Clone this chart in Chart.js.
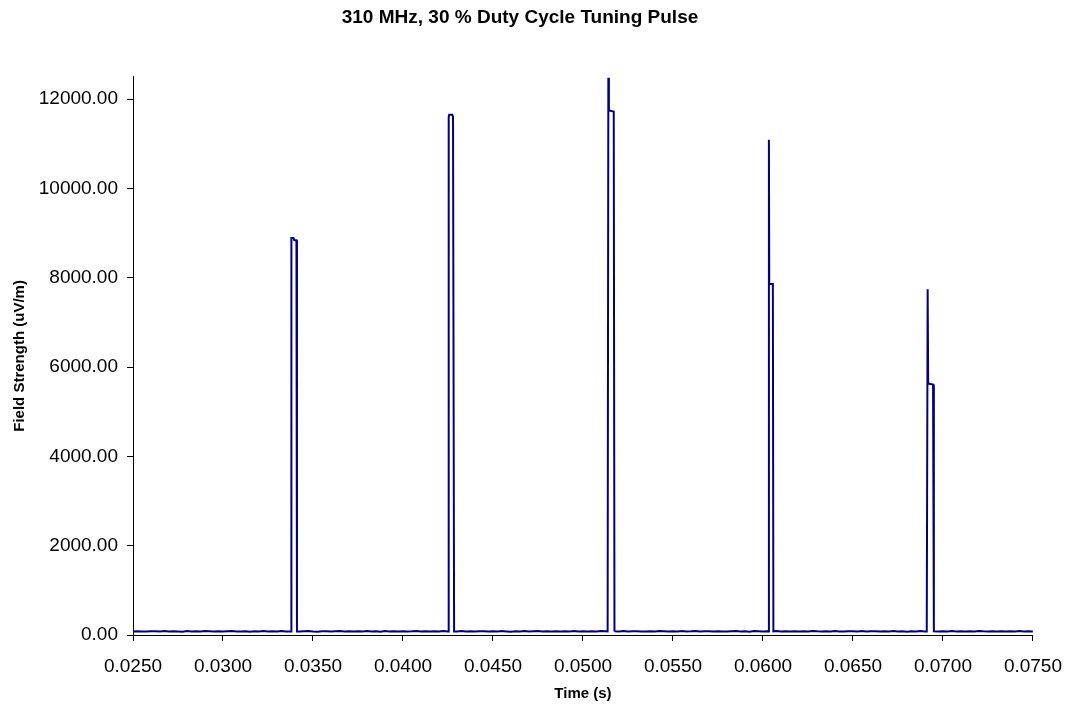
<!DOCTYPE html>
<html>
<head>
<meta charset="utf-8">
<title>310 MHz, 30 % Duty Cycle Tuning Pulse</title>
<script src="https://cdn.jsdelivr.net/npm/chart.js@4.4.1/dist/chart.umd.min.js"></script>
<style>
    html, body { margin: 0; padding: 0; background: #fff; }
    #wrap { width: 1076px; height: 709px; position: relative; }
</style>
</head>
<body>
<div id="wrap"><canvas id="myChart"></canvas></div>
<script>
// noise floor samples, one every 0.25 ms starting at 25 ms
var baselineStart = 0.025;
var baselineStep = 0.00025;
var baselineValues = [
    78, 84, 80, 76, 86, 82, 79, 88, 77, 83,
    81, 75, 87, 80, 84, 78, 90, 82, 76, 85,
    79, 83, 88, 77, 81, 86, 74, 82, 80, 87,
    78, 84, 76, 89, 81, 79, 85, 77, 83, 88,
    80, 75, 86, 82, 78, 84, 91, 79, 83, 76,
    85, 80, 87, 78, 82, 75, 88, 81, 84, 77,
    86, 79, 83, 90, 76, 82, 80, 85, 78, 87,
    81, 84, 77, 89, 80, 83, 76, 86, 82, 79,
    85, 78, 88, 81, 75, 84, 80, 87, 77, 83,
    90, 79, 82, 76, 86, 81, 84, 78, 88, 80,
    83, 77, 85, 79, 87, 82, 75, 84, 80, 89,
    78, 83, 86, 76, 81, 85, 79, 88, 82, 77,
    84, 80, 87, 78, 83, 91, 76, 82, 85, 79,
    86, 81, 77, 84, 88, 80, 83, 75, 87, 82,
    78, 85, 80, 89, 76, 83, 81, 86, 79, 84,
    77, 88, 82, 80, 85, 78, 90, 81, 76, 84,
    83, 79, 87, 80, 82, 86, 77, 84, 81, 88,
    78, 83, 75, 85, 80, 87, 79, 82, 84, 76,
    86, 81, 89, 78, 83, 80, 85, 77, 88, 82,
    79, 84, 80, 86, 76, 83, 81, 87, 78, 85,
    80
];

// the five pulses: edge / peak / shoulder times (s) and levels (uV/m)
var pulseTimes = [
    [0.03378, 0.03380, 0.03392, 0.03396, 0.03408, 0.03411],
    [0.04251, 0.04254, 0.04257, 0.04274, 0.04278, 0.04284],
    [0.05137, 0.05141, 0.05144, 0.05149, 0.05171, 0.05175],
    [0.06029, 0.06033, 0.06035, 0.06055, 0.06058],
    [0.06910, 0.06915, 0.06918, 0.06945, 0.06949]
];
var pulseValues = [
    [80, 8890, 8890, 8840, 8840, 80],
    [80, 11600, 11650, 11650, 11600, 80],
    [80, 12480, 11780, 11740, 11720, 80],
    [80, 11090, 7860, 7860, 80],
    [80, 7740, 5630, 5610, 80]
];

var xTicks = [0.025, 0.030, 0.035, 0.040, 0.045, 0.050, 0.055, 0.060, 0.065, 0.070, 0.075];
var yTicks = [0, 2000, 4000, 6000, 8000, 10000, 12000];

var fontName = "'Liberation Sans', Arial, sans-serif";

start();

function start() {
    setupChart(buildPoints());
}

function buildPoints() {
    var pts = [];
    var i, j;
    for (i = 0; i < baselineValues.length; i++) {
        var t = baselineStart + i * baselineStep;
        var inside = false;
        for (j = 0; j < pulseTimes.length; j++) {
            var p = pulseTimes[j];
            if (t >= p[0] && t <= p[p.length - 1]) inside = true;
        }
        if (!inside) pts.push({x: t, y: baselineValues[i]});
    }
    for (j = 0; j < pulseTimes.length; j++) {
        for (i = 0; i < pulseTimes[j].length; i++) {
            pts.push({x: pulseTimes[j][i], y: pulseValues[j][i]});
        }
    }
    pts.sort(function (a, b) { return a.x - b.x; });
    return pts;
}

function setupChart(points) {
    var ctx = document.getElementById("myChart").getContext('2d');
    var myChart = new Chart(ctx, {
        type: 'line',
        data: {
            datasets: [{
                label: 'Field Strength',
                data: points,
                borderColor: '#000080',
                borderWidth: 2,
                pointRadius: 0,
                tension: 0,
                fill: false
            }]
        },
        options: {
            responsive: true,
            maintainAspectRatio: false,
            animation: false,
            devicePixelRatio: 1,
            layout: { padding: { left: 0, right: 36, top: 0, bottom: 0 } },
            plugins: {
                legend: { display: false },
                tooltip: { enabled: false },
                title: {
                    display: true,
                    text: '310 MHz, 30 % Duty Cycle Tuning Pulse',
                    color: '#000',
                    font: { family: fontName, size: 19, weight: 'bold' },
                    padding: { top: 6, bottom: 48 }
                }
            },
            scales: {
                x: {
                    type: 'linear',
                    min: 0.025,
                    max: 0.075,
                    afterBuildTicks: function (axis) {
                        axis.ticks = xTicks.map(function (v) { return {value: v}; });
                    },
                    afterFit: function (axis) { axis.height = 74; },
                    ticks: {
                        color: '#000',
                        padding: 14,
                        maxRotation: 0,
                        autoSkip: false,
                        font: { family: fontName, size: 19 },
                        callback: function (v) { return Number(v).toFixed(4); }
                    },
                    grid: { drawOnChartArea: false, drawTicks: true, tickLength: 6, color: '#000' },
                    border: { color: '#000', width: 1 },
                    title: {
                        display: true,
                        text: 'Time (s)',
                        color: '#000',
                        font: { family: fontName, size: 15, weight: 'bold' },
                        padding: { top: 4, bottom: 6 }
                    }
                },
                y: {
                    min: 0,
                    max: 12500,
                    afterBuildTicks: function (axis) {
                        axis.ticks = yTicks.map(function (v) { return {value: v}; });
                    },
                    afterFit: function (axis) { axis.width = 133; },
                    ticks: {
                        color: '#000',
                        padding: 9,
                        font: { family: fontName, size: 19 },
                        callback: function (v) { return Number(v).toFixed(2); }
                    },
                    grid: { drawOnChartArea: false, drawTicks: true, tickLength: 6, color: '#000' },
                    border: { color: '#000', width: 1 },
                    title: {
                        display: true,
                        text: 'Field Strength (uV/m)',
                        color: '#000',
                        font: { family: fontName, size: 15, weight: 'bold' },
                        padding: { top: 11, bottom: 4 }
                    }
                }
            }
        }
    });
}
</script>
</body>
</html>
